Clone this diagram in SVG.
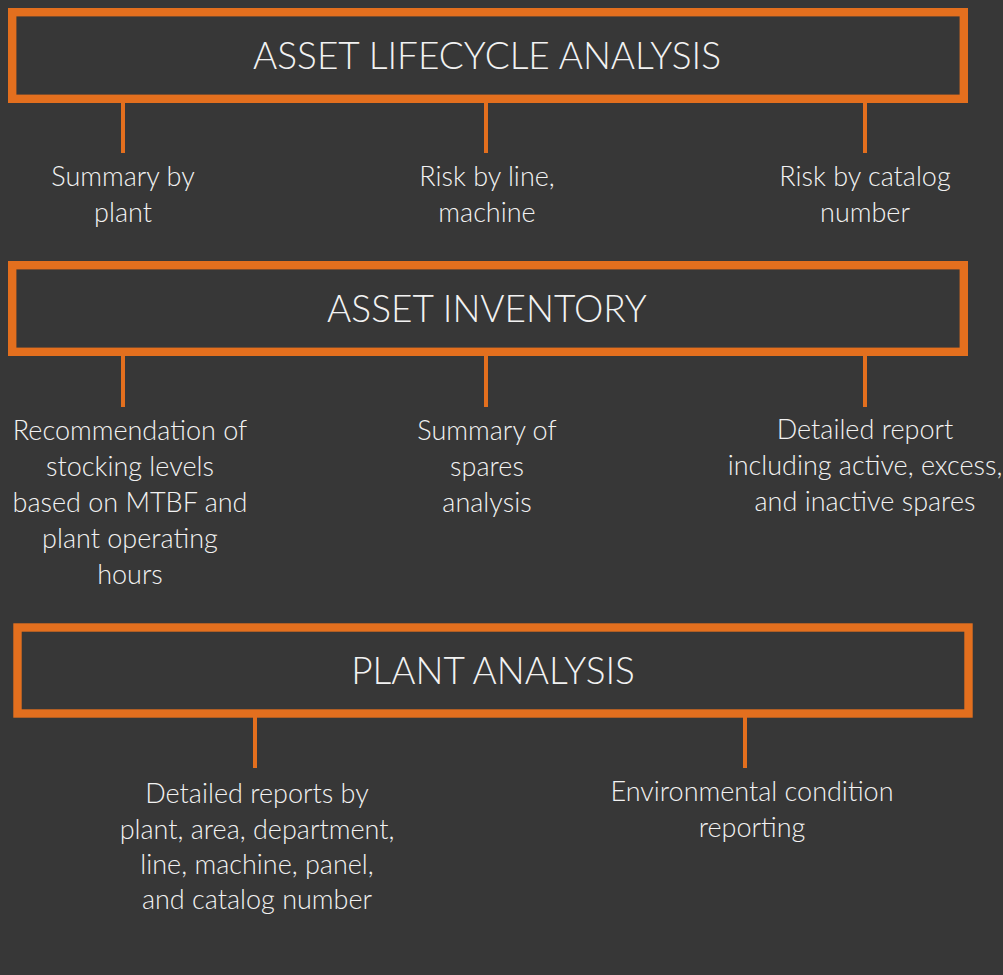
<svg xmlns="http://www.w3.org/2000/svg" width="1003" height="975" viewBox="0 0 1003 975">
<style>
.box{fill:#373737;stroke:#E36F1E;stroke-width:8.4}
.con{stroke:#E36F1E;stroke-width:4;fill:none}
.title{font-family:Lato,"Open Sans",sans-serif;font-weight:300;font-size:37px;fill:#F2F2F2;text-anchor:middle}
.lbl{font-family:Lato,"Open Sans",sans-serif;font-weight:300;font-size:27px;fill:#F2F2F2;text-anchor:middle}
</style>
<rect width="1003" height="975" fill="#373737"/>
<g id="connectors">
<line class="con" x1="123" y1="102" x2="123" y2="153"/>
<line class="con" x1="486" y1="102" x2="486" y2="153"/>
<line class="con" x1="865" y1="102" x2="865" y2="153"/>
<line class="con" x1="123" y1="355" x2="123" y2="407"/>
<line class="con" x1="486" y1="355" x2="486" y2="407"/>
<line class="con" x1="865" y1="355" x2="865" y2="407"/>
<line class="con" x1="255" y1="717" x2="255" y2="768"/>
<line class="con" x1="745" y1="717" x2="745" y2="768"/>
</g>
<g id="asset-lifecycle">
<rect class="box" x="12.2" y="12.2" width="951.6" height="86.6"/>
<text class="title" x="487" y="69">ASSET LIFECYCLE ANALYSIS</text>
</g>
<g id="summary-by-plant">
<text class="lbl" x="123" y="186">Summary by</text>
<text class="lbl" x="123" y="222">plant</text>
</g>
<g id="risk-by-line">
<text class="lbl" x="487" y="186">Risk by line,</text>
<text class="lbl" x="487" y="222">machine</text>
</g>
<g id="risk-by-catalog">
<text class="lbl" x="865" y="186">Risk by catalog</text>
<text class="lbl" x="865" y="222">number</text>
</g>
<g id="asset-inventory">
<rect class="box" x="12.2" y="265.2" width="951.6" height="86.6"/>
<text class="title" x="487" y="322">ASSET INVENTORY</text>
</g>
<g id="recommendation">
<text class="lbl" x="130" y="440">Recommendation of</text>
<text class="lbl" x="130" y="476">stocking levels</text>
<text class="lbl" x="130" y="512">based on MTBF and</text>
<text class="lbl" x="130" y="548">plant operating</text>
<text class="lbl" x="130" y="584">hours</text>
</g>
<g id="summary-of-spares">
<text class="lbl" x="487" y="440">Summary of</text>
<text class="lbl" x="487" y="476">spares</text>
<text class="lbl" x="487" y="512">analysis</text>
</g>
<g id="detailed-report">
<text class="lbl" x="865" y="439">Detailed report</text>
<text class="lbl" x="865" y="475">including active, excess,</text>
<text class="lbl" x="865" y="511">and inactive spares</text>
</g>
<g id="plant-analysis">
<rect class="box" x="17.5" y="627.5" width="951" height="86"/>
<text class="title" x="493" y="684">PLANT ANALYSIS</text>
</g>
<g id="detailed-reports-by">
<text class="lbl" x="257" y="803">Detailed reports by</text>
<text class="lbl" x="257" y="839">plant, area, department,</text>
<text class="lbl" x="257" y="874">line, machine, panel,</text>
<text class="lbl" x="257" y="909">and catalog number</text>
</g>
<g id="environmental">
<text class="lbl" x="752" y="801">Environmental condition</text>
<text class="lbl" x="752" y="837">reporting</text>
</g>
</svg>
